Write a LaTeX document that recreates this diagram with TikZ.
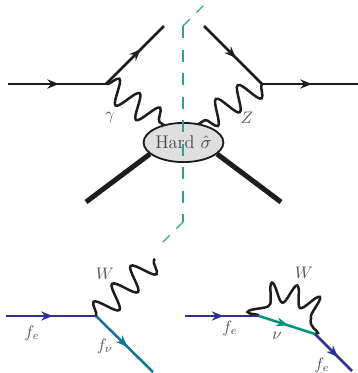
\documentclass[tikz,border=0pt]{standalone}
\usepackage{amsmath}
\usetikzlibrary{arrows.meta,decorations.pathmorphing,decorations.markings,shapes.geometric}
\definecolor{Ink}{HTML}{1D1D1D}
\definecolor{Elec}{HTML}{2E3192}
\definecolor{Muon}{HTML}{0F7299}
\definecolor{Neut}{HTML}{009678}
\definecolor{Cut}{HTML}{2CA58D}
\tikzset{
  fermion/.style={line width=1.5pt,postaction={decorate},decoration={markings,
    mark=at position #1 with {\arrow{Stealth[length=7pt,width=5.5pt]}}}},
  fermion/.default=0.52,
  boson/.style={line width=1.5pt,draw=Ink,decorate,decoration={snake,segment length=#1,amplitude=7.2pt}},
  boson/.default=15pt,
  jet/.style={line width=3pt,draw=Ink},
  cutline/.style={draw=Cut,line width=0.8pt,dash pattern=on 7.2pt off 6.9pt},
  cutdiag/.style={draw=Cut,line width=0.8pt,dash pattern=on 5.7pt off 5.7pt},
  lab/.style={text=Ink!75,inner sep=0pt},
}
\begin{document}
\begin{tikzpicture}[x=0.6pt,y=-0.6pt]
\useasboundingbox (0,0) rectangle (358,373);
% top process
\coordinate (ina) at (8,84);
\coordinate (vl) at (106,84);
\coordinate (outl) at (164,26);
\coordinate (outr) at (204,26);
\coordinate (vr) at (262,84);
\coordinate (inb) at (358,84);
\coordinate (gl) at (168,128);
\coordinate (gr) at (197,125);
\coordinate (jl) at (86,202);
\coordinate (jr) at (281,202);
\draw[fermion,Ink] (ina) -- (vl);
\draw[fermion=0.6,Ink] (vl) -- (outl);
\draw[fermion=0.55,Ink] (outr) -- (vr);
\draw[fermion,Ink] (vr) -- (inb);
\draw[boson] (vl) -- (gl);
\draw[boson=15.5pt] (vr) -- (gr);
\node[ellipse,draw=Ink,fill=Ink!14,text=Ink!80,line width=1.1pt,
  minimum width=47pt,minimum height=23.5pt,inner sep=0pt,font=\fontsize{11}{13}\selectfont] (blob) at (183.5,142.5) {Hard $\hat{\sigma}$};
\draw[jet] (blob.199) -- (jl);
\draw[jet] (blob.341) -- (jr);
\node[lab] (gamlab) at (110,118) {$\gamma$};
\node[lab] (zlab) at (247,118) {$Z$};
% cut
\coordinate (cuta) at (183,26);
\coordinate (cutb) at (204,5);
\coordinate (cutc) at (183,222);
\coordinate (cutd) at (163,242);
\draw[cutline] (cuta) -- (cutc);
\draw[cutdiag] (cuta) -- (cutb);
\draw[cutdiag] (cutc) -- (cutd);
% bottom left
\coordinate (bla) at (6,316);
\coordinate (blv) at (96,316);
\coordinate (blb) at (153,372);
\coordinate (blw) at (155,259);
\draw[fermion,Elec] (bla) -- (blv);
\draw[fermion=0.55,Muon] (blv) -- (blb);
\draw[boson=15.5pt] (blv) -- (blw);
\node[lab] (wl) at (105,274) {$W$};
\node[lab] (fel) at (32,333) {$f_e$};
\node[lab] (fnu) at (105,346) {$f_\nu$};
% bottom right
\coordinate (bra) at (185,316);
\coordinate (brv) at (259,316);
\coordinate (brw) at (315,334);
\coordinate (brb) at (352,371);
\draw[boson=13pt,decoration={amplitude=6pt}] (brv) to[out=105,in=50,looseness=1.5] (brw);
\draw[fermion,Elec] (bra) -- (brv);
\draw[fermion,Neut] (brv) -- (brw);
\draw[fermion=0.62,Elec] (brw) -- (brb);
\node[lab] (wr) at (304,273) {$W$};
\node[lab] (fer) at (230,328) {$f_e$};
\node[lab] (nulab) at (277,336) {$\nu$};
\node[lab] (ferb) at (322,365) {$f_e$};
\end{tikzpicture}
\end{document}
